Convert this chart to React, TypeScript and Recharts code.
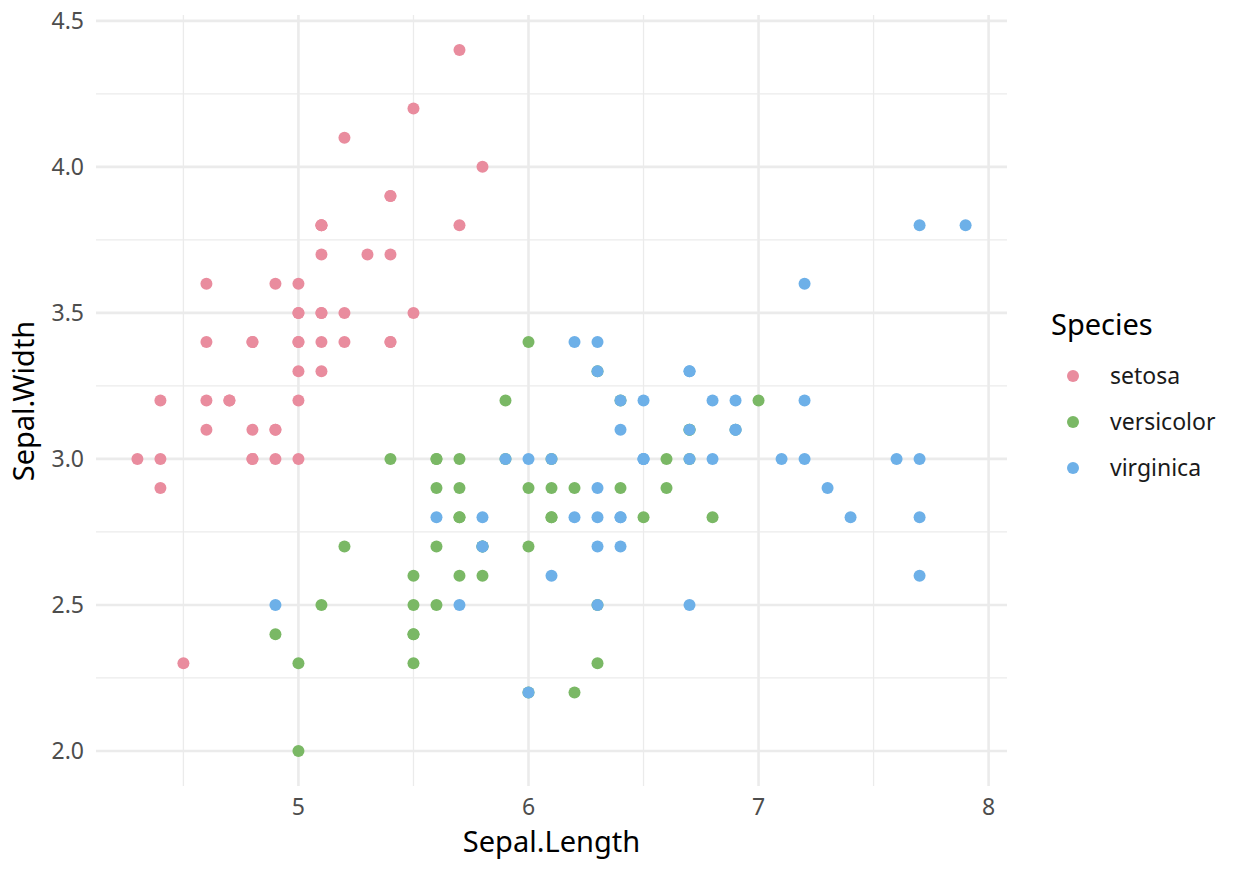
import React from 'react';
import { ScatterChart, Scatter, XAxis, YAxis, ReferenceLine, Customized } from 'recharts';

// iris: sepal length / sepal width per species
const setosaLength = [5.1, 4.9, 4.7, 4.6, 5.0, 5.4, 4.6, 5.0, 4.4, 4.9, 5.4, 4.8, 4.8, 4.3, 5.8, 5.7, 5.4, 5.1, 5.7, 5.1, 5.4, 5.1, 4.6, 5.1, 4.8, 5.0, 5.0, 5.2, 5.2, 4.7, 4.8, 5.4, 5.2, 5.5, 4.9, 5.0, 5.5, 4.9, 4.4, 5.1, 5.0, 4.5, 4.4, 5.0, 5.1, 4.8, 5.1, 4.6, 5.3, 5.0];
const setosaWidth = [3.5, 3.0, 3.2, 3.1, 3.6, 3.9, 3.4, 3.4, 2.9, 3.1, 3.7, 3.4, 3.0, 3.0, 4.0, 4.4, 3.9, 3.5, 3.8, 3.8, 3.4, 3.7, 3.6, 3.3, 3.4, 3.0, 3.4, 3.5, 3.4, 3.2, 3.1, 3.4, 4.1, 4.2, 3.1, 3.2, 3.5, 3.6, 3.0, 3.4, 3.5, 2.3, 3.2, 3.5, 3.8, 3.0, 3.8, 3.2, 3.7, 3.3];

const versicolorLength = [7.0, 6.4, 6.9, 5.5, 6.5, 5.7, 6.3, 4.9, 6.6, 5.2, 5.0, 5.9, 6.0, 6.1, 5.6, 6.7, 5.6, 5.8, 6.2, 5.6, 5.9, 6.1, 6.3, 6.1, 6.4, 6.6, 6.8, 6.7, 6.0, 5.7, 5.5, 5.5, 5.8, 6.0, 5.4, 6.0, 6.7, 6.3, 5.6, 5.5, 5.5, 6.1, 5.8, 5.0, 5.6, 5.7, 5.7, 6.2, 5.1, 5.7];
const versicolorWidth = [3.2, 3.2, 3.1, 2.3, 2.8, 2.8, 3.3, 2.4, 2.9, 2.7, 2.0, 3.0, 2.2, 2.9, 2.9, 3.1, 3.0, 2.7, 2.2, 2.5, 3.2, 2.8, 2.5, 2.8, 2.9, 3.0, 2.8, 3.0, 2.9, 2.6, 2.4, 2.4, 2.7, 2.7, 3.0, 3.4, 3.1, 2.3, 3.0, 2.5, 2.6, 3.0, 2.6, 2.3, 2.7, 3.0, 2.9, 2.9, 2.5, 2.8];

const virginicaLength = [6.3, 5.8, 7.1, 6.3, 6.5, 7.6, 4.9, 7.3, 6.7, 7.2, 6.5, 6.4, 6.8, 5.7, 5.8, 6.4, 6.5, 7.7, 7.7, 6.0, 6.9, 5.6, 7.7, 6.3, 6.7, 7.2, 6.2, 6.1, 6.4, 7.2, 7.4, 7.9, 6.4, 6.3, 6.1, 7.7, 6.3, 6.4, 6.0, 6.9, 6.7, 6.9, 5.8, 6.8, 6.7, 6.7, 6.3, 6.5, 6.2, 5.9];
const virginicaWidth = [3.3, 2.7, 3.0, 2.9, 3.0, 3.0, 2.5, 2.9, 2.5, 3.6, 3.2, 2.7, 3.0, 2.5, 2.8, 3.2, 3.0, 3.8, 2.6, 2.2, 3.2, 2.8, 2.8, 2.7, 3.3, 3.2, 2.8, 3.0, 2.8, 3.0, 2.8, 3.8, 2.8, 2.8, 2.6, 3.0, 3.4, 3.1, 3.0, 3.1, 3.1, 3.1, 2.7, 3.2, 3.3, 3.0, 2.5, 3.0, 3.4, 3.0];

const speciesNames = ['setosa', 'versicolor', 'virginica'];
const speciesColors = ['#E98C9E', '#7AB865', '#6DB0E8'];

const xMajor = [5, 6, 7, 8];
const xMinor = [4.5, 5.5, 6.5, 7.5];
const yMajor = [2, 2.5, 3, 3.5, 4, 4.5];
const yMinor = [2.25, 2.75, 3.25, 3.75, 4.25];

const zip = (xs: number[], ys: number[]) => xs.map((x, i) => ({ x, y: ys[i] }));

const seriesData = [
  zip(setosaLength, setosaWidth),
  zip(versicolorLength, versicolorWidth),
  zip(virginicaLength, virginicaWidth),
];

const FONT = '"Noto Sans", "Open Sans", sans-serif';
const GRID = '#EBEBEB';

const dot = (color: string) => (props: any) => (
  <circle cx={props.cx} cy={props.cy} r={6} fill={color} />
);

const LegendBlock = () => (
  <g fontFamily={FONT}>
    <text x={1051} y={335} fontSize={29} fill="#000">Species</text>
    {speciesNames.map((name, i) => (
      <g key={name}>
        <circle cx={1073} cy={376 + i * 46} r={6} fill={speciesColors[i]} />
        <text x={1110} y={384 + i * 46} fontSize={23} fill="#1A1A1A">{name}</text>
      </g>
    ))}
  </g>
);

const App: React.FC = () => {
  const tickStyle = { fill: '#4D4D4D', fontSize: 23, fontFamily: FONT };
  return (
    <div style={{ position: 'absolute', left: 0, top: 0, background: '#fff' }}>
      <ScatterChart width={1248} height={873} margin={{ top: 15, right: 241, bottom: 0, left: 0 }}>
        {xMinor.map((v) => (
          <ReferenceLine key={'xm' + v} x={v} stroke={GRID} strokeWidth={1.3} ifOverflow="hidden" />
        ))}
        {yMinor.map((v) => (
          <ReferenceLine key={'ym' + v} y={v} stroke={GRID} strokeWidth={1.3} ifOverflow="hidden" />
        ))}
        {xMajor.map((v) => (
          <ReferenceLine key={'xM' + v} x={v} stroke={GRID} strokeWidth={2.6} ifOverflow="hidden" />
        ))}
        {yMajor.map((v) => (
          <ReferenceLine key={'yM' + v} y={v} stroke={GRID} strokeWidth={2.6} ifOverflow="hidden" />
        ))}
        <XAxis
          type="number"
          dataKey="x"
          domain={[4.12, 8.08]}
          ticks={xMajor}
          allowDataOverflow
          height={87}
          axisLine={false}
          tickLine={false}
          tickSize={0}
          tickMargin={13}
          tick={tickStyle}
          label={{ value: 'Sepal.Length', position: 'insideBottom', offset: 21, fill: '#000', fontSize: 29, fontFamily: FONT }}
        />
        <YAxis
          type="number"
          dataKey="y"
          domain={[1.88, 4.52]}
          ticks={yMajor}
          allowDataOverflow
          width={96}
          axisLine={false}
          tickLine={false}
          tickSize={0}
          tickMargin={12}
          tick={tickStyle}
          tickFormatter={(v: number) => v.toFixed(1)}
        />
        {seriesData.map((d, i) => (
          <Scatter
            key={speciesNames[i]}
            name={speciesNames[i]}
            data={d}
            fill={speciesColors[i]}
            shape={dot(speciesColors[i])}
            isAnimationActive={false}
          />
        ))}
        <Customized
          component={() => (
            <text
              x={0}
              y={0}
              transform="translate(34,401) rotate(-90)"
              textAnchor="middle"
              fontSize={29}
              fontFamily={FONT}
              fill="#000"
            >
              Sepal.Width
            </text>
          )}
        />
        <Customized component={LegendBlock} />
      </ScatterChart>
    </div>
  );
};

export default App;
